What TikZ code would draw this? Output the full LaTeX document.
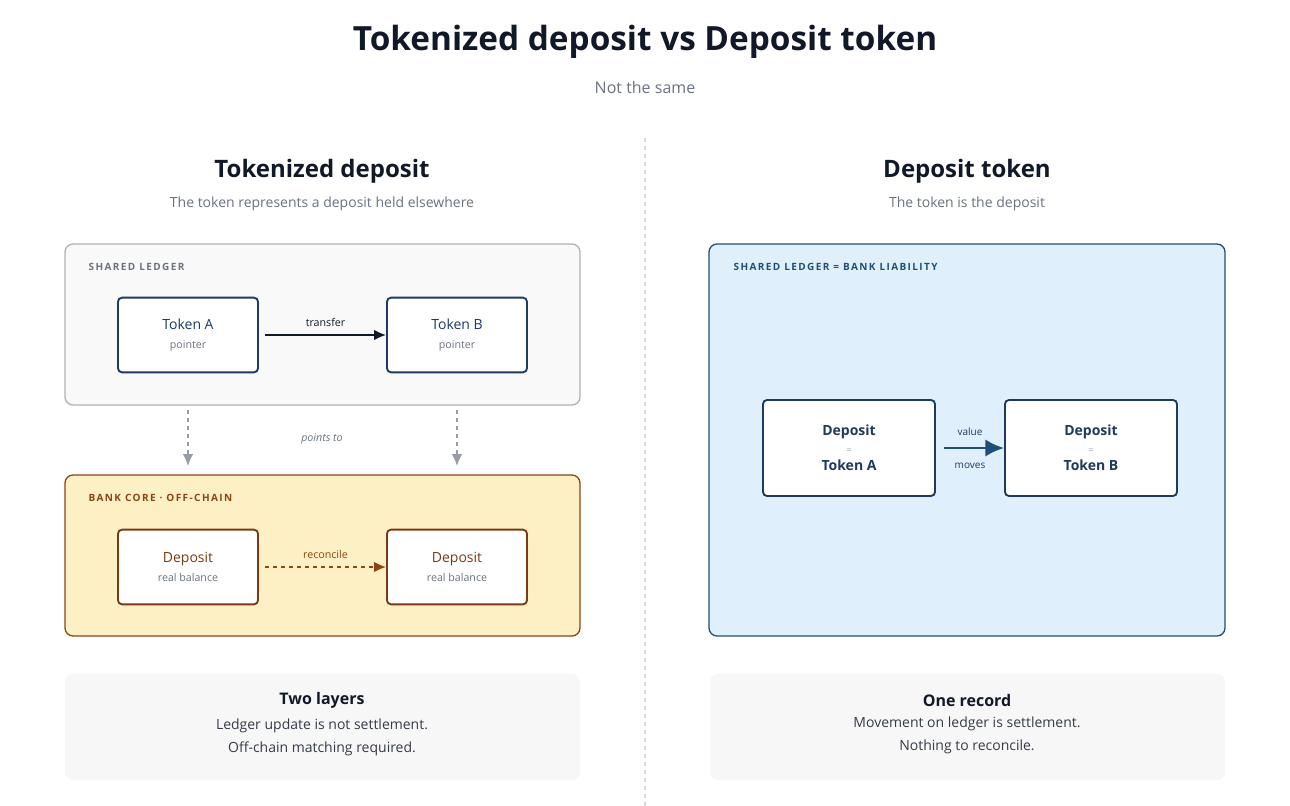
\documentclass[tikz,border=0pt]{standalone}
\usepackage{fontspec}
\setmainfont{Open Sans}
\usetikzlibrary{arrows.meta,positioning}
\tikzset{>={Latex[width=8pt,length=9pt]}}
\definecolor{ink}{HTML}{111827}
\definecolor{navy}{HTML}{1E3A5F}
\definecolor{grey}{HTML}{6B7280}
\definecolor{brown}{HTML}{7C3A12}
\definecolor{ochre}{HTML}{8B4513}
\definecolor{cream}{HTML}{FDF0C4}
\definecolor{sky}{HTML}{DFF0FC}
\definecolor{deep}{HTML}{1F4E79}
\tikzset{
  panel/.style={draw, rounded corners=6pt, line width=1pt},
  card/.style={draw, fill=white, rounded corners=3pt, line width=1.4pt, minimum width=105pt, minimum height=56pt, align=center},
  tag/.style={anchor=west, font=\fontsize{7.5}{9}\selectfont\bfseries\addfontfeature{LetterSpace=14}},
  small/.style={font=\fontsize{8}{10}\selectfont}
}

\begin{document}
\begin{tikzpicture}[x=0.75pt, y=-0.75pt]

  \useasboundingbox (0,0) rectangle (1290,806);

  % header
  \node[font=\fontsize{25}{30}\selectfont\bfseries, text=ink] (title) at (645,42) {Tokenized deposit vs Deposit token};
  \node[font=\fontsize{12}{14}\selectfont, text=grey] (sub) at (645,88) {Not the same};
  \draw[gray!30, dashed, line width=0.8pt] (645,138) -- (645,806);

  %% <left>
  \node[font=\fontsize{18}{22}\selectfont\bfseries, text=ink] (ltitle) at (322,171) {Tokenized deposit};
  \node[font=\fontsize{10.5}{13}\selectfont, text=grey] (lsub) at (322,204) {The token represents a deposit held elsewhere};

  \draw[panel, draw=gray!60, fill=gray!5] (65,244) rectangle (580,405);
  \node[tag, text=grey] (ledger) at (84,267) {SHARED LEDGER};
  \node[card, draw=navy] (ta) at (188,335) {\fontsize{10.5}{13}\selectfont\color{navy}Token A\\[2pt] \fontsize{8}{10}\selectfont\color{grey}pointer};
  \node[card, draw=navy] (tb) at (457,335) {\fontsize{10.5}{13}\selectfont\color{navy}Token B\\[2pt] \fontsize{8}{10}\selectfont\color{grey}pointer};
  \draw[->, line width=1.4pt, ink] (ta.east) ++(6,0) coordinate (ta0) -- node[above, small, text=ink, yshift=2pt]{transfer} (tb.west);

  \draw[panel, draw=ochre, fill=cream] (65,475) rectangle (580,636);
  \node[tag, text=ochre] (core) at (84,498) {BANK CORE · OFF-CHAIN};
  \node[card, draw=brown] (da) at (188,567) {\fontsize{10.5}{13}\selectfont\color{brown}Deposit\\[2pt] \fontsize{8}{10}\selectfont\color{grey}real balance};
  \node[card, draw=brown] (db) at (457,567) {\fontsize{10.5}{13}\selectfont\color{brown}Deposit\\[2pt] \fontsize{8}{10}\selectfont\color{grey}real balance};
  \draw[->, line width=1.4pt, ochre, dashed] (da.east) ++(6,0) coordinate (da0) -- node[above, small, text=ochre, yshift=2pt]{reconcile} (db.west);

  % points to
  \coordinate (p1) at (188,410); \coordinate (q1) at (188,466);
  \coordinate (p2) at (457,410); \coordinate (q2) at (457,466);
  \draw[->, grey!70, dashed, line width=1pt] (p1) -- (q1);
  \draw[->, grey!70, dashed, line width=1pt] (p2) -- (q2);
  \node[small, font=\fontsize{8}{10}\selectfont\itshape, text=grey] (pt) at (322,439) {points to};

  \fill[gray!6, rounded corners=6pt] (65,674) rectangle (580,780);
  \node[font=\fontsize{12}{14}\selectfont\bfseries, text=ink] (lsum) at (322,700) {Two layers};
  \node[font=\fontsize{10.5}{17}\selectfont, text=ink!85, align=center, below=1pt of lsum] (ltxt) {Ledger update is not settlement.\\Off-chain matching required.};
  % </left>

  %% <right>
  \node[font=\fontsize{18}{22}\selectfont\bfseries, text=ink] (rtitle) at (967,171) {Deposit token};
  \node[font=\fontsize{10.5}{13}\selectfont, text=grey] (rsub) at (967,204) {The token is the deposit};

  \draw[panel, draw=deep, fill=sky] (709,244) rectangle (1225,636);
  \node[tag, text=deep] (liab) at (729,267) {SHARED LEDGER = BANK LIABILITY};
  \node[card, draw=navy, minimum width=129pt, minimum height=72pt] (dta) at (849,448) {\fontsize{10.5}{13}\selectfont\bfseries\color{navy}Deposit\\[1pt] \fontsize{7}{9}\selectfont\color{grey!60}=\\[1pt] \fontsize{10.5}{13}\selectfont\bfseries\color{navy}Token A};
  \node[card, draw=navy, minimum width=129pt, minimum height=72pt] (dtb) at (1091,448) {\fontsize{10.5}{13}\selectfont\bfseries\color{navy}Deposit\\[1pt] \fontsize{7}{9}\selectfont\color{grey!60}=\\[1pt] \fontsize{10.5}{13}\selectfont\bfseries\color{navy}Token B};
  \draw[->, line width=2.2pt, deep, >={Latex[width=13pt,length=14pt]}] (dta.east) ++(8,0) coordinate (dta0) -- (dtb.west);
  \node[small, font=\fontsize{7.5}{9}\selectfont, text=navy] (val) at (970,432) {value};
  \node[small, font=\fontsize{7.5}{9}\selectfont, text=navy] (mov) at (970,466) {moves};

  \fill[gray!6, rounded corners=6pt] (710,674) rectangle (1225,780);
  \node[font=\fontsize{12}{14}\selectfont\bfseries, text=ink] (rsum) at (967,700) {One record};
  \node[font=\fontsize{10.5}{17}\selectfont, text=ink!85, align=center, below=1pt of rsum] (rtxt) {Movement on ledger is settlement.\\Nothing to reconcile.};
  % </right>

\end{tikzpicture}
\end{document}
